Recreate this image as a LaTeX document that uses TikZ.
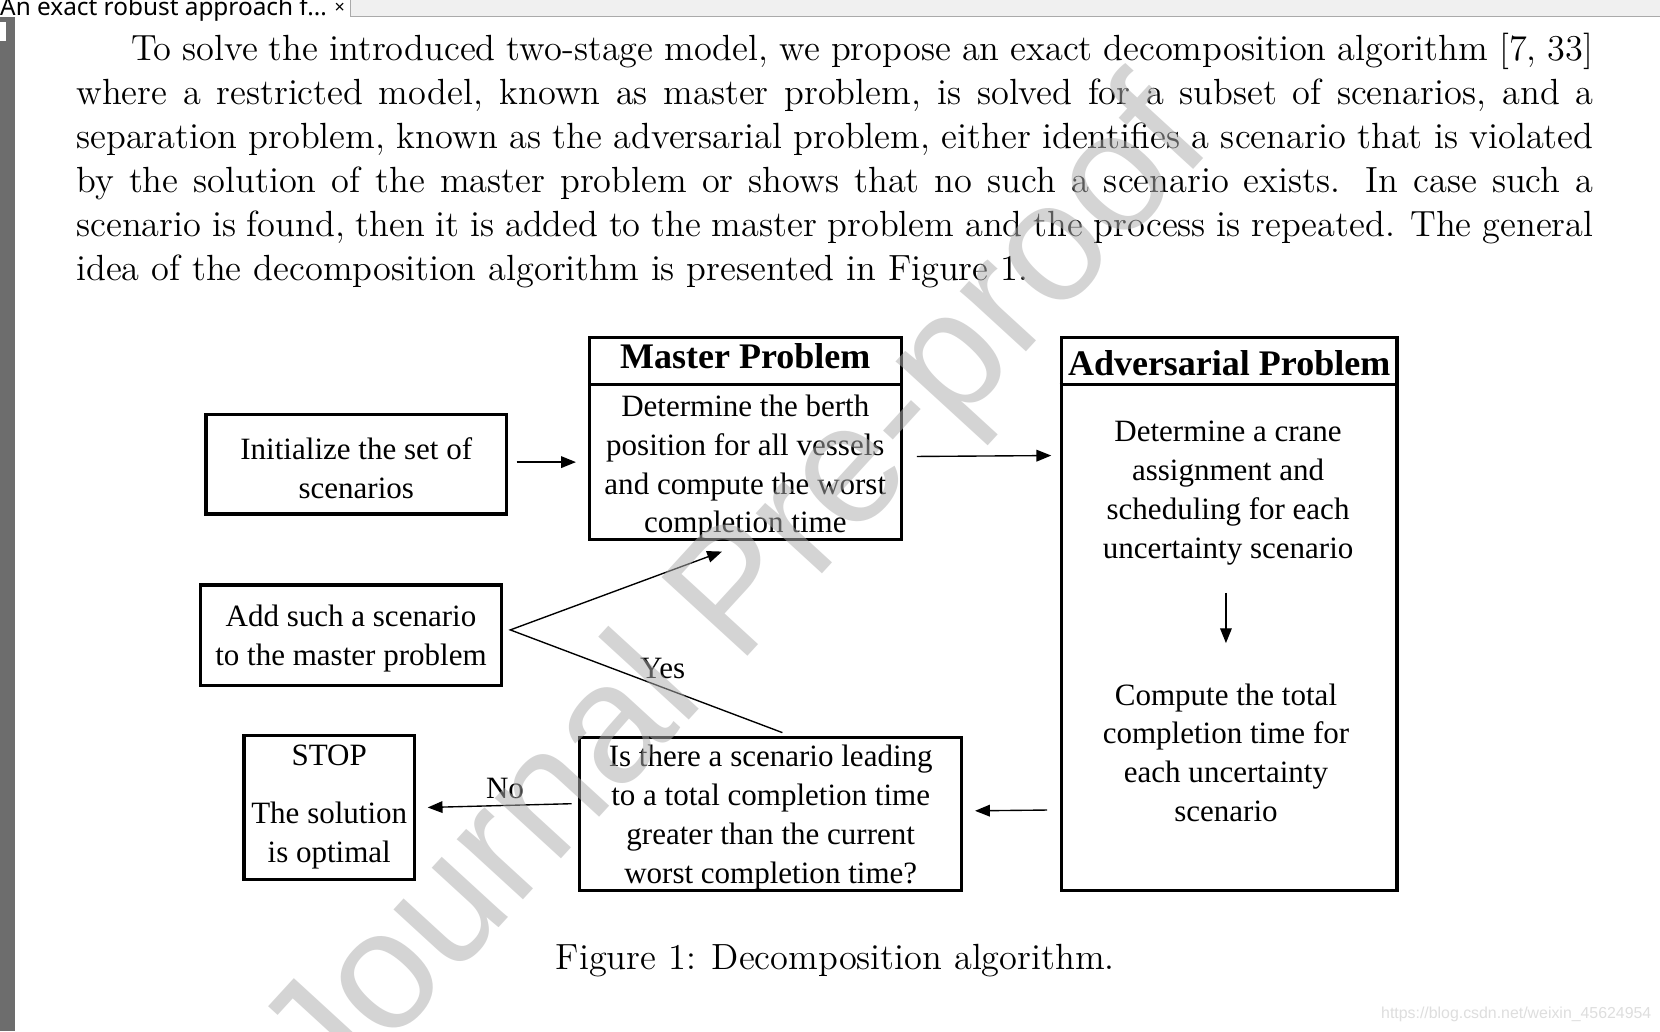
\documentclass[tikz,border=0pt]{standalone}
\usepackage{fontspec}
\newfontfamily\tnr{Liberation Serif}
\newfontfamily\arialf{Liberation Sans}
\newfontfamily\uisans{Noto Sans}
\usetikzlibrary{arrows.meta,calc}
\definecolor{wm}{RGB}{173,173,173}
\definecolor{strip}{RGB}{109,109,109}
\definecolor{barbg}{RGB}{240,240,240}
\definecolor{barline}{RGB}{170,170,170}
\definecolor{sitec}{RGB}{222,222,222}
\begin{document}
\begin{tikzpicture}[x=1pt,y=-1pt,
  frame/.style={draw,line width=3pt,inner sep=0pt},
  plain/.style={inner sep=0pt,align=center,font=\tnr\fontsize{29.3}{36.7}\selectfont},
  ttl/.style={inner sep=0pt,font=\tnr\bfseries\fontsize{34}{40}\selectfont},
  arr/.style={line width=1.3pt,-{Triangle[length=14pt,width=11pt]}},
  lbl/.style={inner sep=0pt,font=\tnr\fontsize{29.3}{36.7}\selectfont},
]
\useasboundingbox (0,0) rectangle (1568,974);
\fill[white] (0,0) rectangle (1568,974);
% viewer chrome
\fill[barbg] (0,0) rectangle (1568,16);
\fill[white] (0,0) rectangle (331,16);
\draw[barline,line width=1pt] (331,0) -- (331,16) -- (1568,16);
\fill[strip] (0,16) rectangle (14,974);
\fill[white] (0,21) rectangle (6,39);
\node[anchor=base west,inner sep=0pt,font=\uisans\fontsize{23}{23}\selectfont] (tab) at (0,14.5) {An exact robust approach f...};
\node[anchor=base,inner sep=0pt,font=\uisans\bfseries\fontsize{17}{17}\selectfont] (close) at (321,13) {×};

% paragraph
\node[anchor=base west,inner sep=0pt] (para) at (72,57) {\scalebox{2.866}{\parbox[t]{500pt}{\fontsize{12}{14.5}\selectfont\tolerance=10000
\hspace*{18pt}To solve the introduced two-stage model, we propose an exact decomposition algorithm [7, 33]\linebreak
where a restricted model, known as master problem, is solved for a subset of scenarios, and a\linebreak
separation problem, known as the adversarial problem, either identifies a scenario that is violated\linebreak
by the solution of the master problem or shows that no such a scenario exists. In case such a\linebreak
scenario is found, then it is added to the master problem and the process is repeated. The general\linebreak
idea of the decomposition algorithm is presented in Figure 1.}}};

% boxes
\node[frame,minimum width=284pt,minimum height=94pt] (init) at (336.5,438.5) {};
\node[plain] (initt) at ([yshift=-4pt]init.center) {Initialize the set of\\scenarios};

\node[frame,minimum width=295pt,minimum height=44.5pt] (mhead) at (704,340.75) {};
\node[ttl] (mtitle) at ([yshift=4pt]mhead.center) {Master Problem};
\node[frame,minimum width=295pt,minimum height=146.5pt] (mbody) at (704,436.25) {};
\node[plain] (mbodyt) at ([yshift=-5pt]mbody.center) {Determine the berth\\position for all vessels\\and compute the worst\\completion time};

\node[frame,minimum width=317pt,minimum height=523pt] (adv) at (1161,580) {};
\draw[line width=3pt] ($(adv.north west)+(0,46)$) -- ($(adv.north east)+(0,46)$);
\node[ttl] (advt) at (1161,343) {Adversarial Problem};
\node[plain] (advtop) at (1160,466) {Determine a crane\\assignment and\\scheduling for each\\uncertainty scenario};
\node[plain] (advbot) at (1158,711) {Compute the total\\completion time for\\each uncertainty\\scenario};

\node[frame,minimum width=284pt,minimum height=95pt] (add) at (331.5,600) {};
\node[plain] (addt) at ([yshift=-3pt]add.center) {Add such a scenario\\to the master problem};

\node[frame,minimum width=161pt,minimum height=136pt] (stop) at (311,762.5) {};
\node[plain] (stopt) at (stop.center) {STOP\\[18pt]The solution\\is optimal};

\node[frame,minimum width=361pt,minimum height=145pt] (q) at (728,769) {};
\node[plain] (qt) at ([yshift=-3pt]q.center) {Is there a scenario leading\\to a total completion time\\greater than the current\\worst completion time?};

% connectors
\draw[arr,shorten <=8pt,shorten >=11pt] ([yshift=2pt]init.east) -- ([yshift=2pt]init.east -| mbody.west);
\draw[arr,shorten <=13pt,shorten >=8pt] ([yshift=5pt]mbody.east) -- ([yshift=6pt]mbody.east -| adv.west);
\coordinate (dstart) at ([xshift=-2pt,yshift=-26pt]advtop.south);
\draw[arr] (dstart) -- ([yshift=38pt]advbot.north -| dstart);
\draw[arr,shorten <=12pt,shorten >=11pt] ([yshift=4pt]q.east -| adv.west) -- ([yshift=3pt]q.east);
\draw[arr,shorten <=6pt,shorten >=11pt] ([yshift=10pt]q.west) -- ([yshift=-0.5pt]stop.east);
\draw[arr] ([xshift=11pt,yshift=3pt]q.north) -- ([xshift=7pt,yshift=5pt]add.east) -- ([xshift=-22pt,yshift=-10pt]mbody.south);
\node[lbl] (no) at (477,745) {No};
\node[lbl] (yes) at (626,631) {Yes};

% caption
\node[anchor=base,inner sep=0pt] (cap) at (789,916) {\scalebox{2.866}{\fontsize{12}{14.5}\selectfont Figure 1: Decomposition algorithm.}};

% site mark
\node[anchor=base east,inner sep=0pt,text=sitec,font=\arialf\fontsize{15}{15}\selectfont] (site) at (1560,962) {https://blog.csdn.net/weixin\_45624954};

% watermark
\node[rotate=47.5,inner sep=0pt,text=wm,opacity=0.52,font=\arialf\fontsize{160}{160}\selectfont] (wmark) at (700,565) {Journal Pre-proof};
\end{tikzpicture}
\end{document}
